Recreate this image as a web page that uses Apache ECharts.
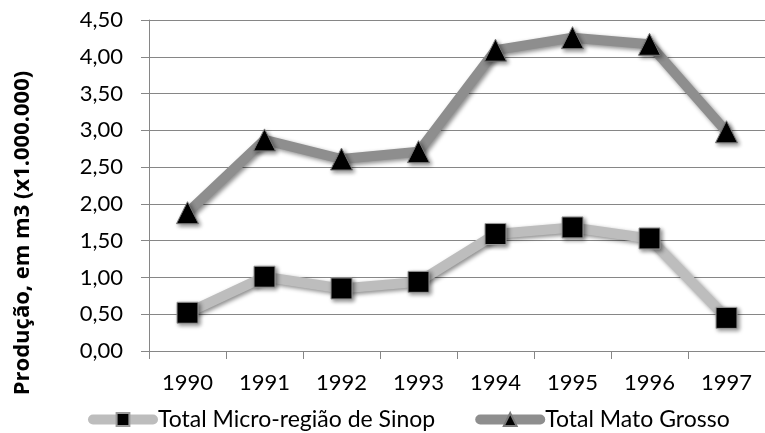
<!DOCTYPE html>
<html>
<head>
<meta charset="utf-8">
<script src="https://cdn.jsdelivr.net/npm/echarts@6/dist/echarts.min.js"></script>
<style>
  html, body { margin: 0; padding: 0; background: #fff; }
  #chart { width: 765px; height: 433px; }
</style>
</head>
<body>
<div id="chart"></div>
<script>
// dados
const anos = ["1990", "1991", "1992", "1993", "1994", "1995", "1996", "1997"];
const sinop = [0.52, 1.01, 0.85, 0.94, 1.59, 1.68, 1.53, 0.45];
const matoGrosso = [1.88, 2.87, 2.61, 2.71, 4.09, 4.26, 4.17, 2.98];
const nomes = ["Total Micro-região de Sinop", "Total Mato Grosso"];
const tituloY = "Produção, em m3 (x1.000.000)";

const fonte = "Lato, 'Open Sans', sans-serif";
const myChart = echarts.init(document.getElementById("chart"));

const sombra = {
  shadowBlur: 4,
  shadowColor: "rgba(0,0,0,0.45)",
  shadowOffsetX: 2,
  shadowOffsetY: 2,
};

const option = {
  animation: false,
  grid: { left: 149, width: 619, top: 20, bottom: 82 },
  legend: {
    top: 403,
    left: 83,
    itemGap: 40,
    itemWidth: 60,
    itemHeight: 16,
    lineStyle: { width: 10, cap: "round" },
    textStyle: { fontFamily: fonte, fontSize: 23, color: "#000" },
    data: nomes,
  },
  graphic: [
    {
      type: "text",
      x: 23,
      y: 233,
      rotation: Math.PI / 2,
      style: {
        text: tituloY,
        fontFamily: "'Open Sans', sans-serif",
        fontSize: 22,
        fontWeight: "bold",
        fill: "#000",
        align: "center",
        verticalAlign: "middle",
      },
    },
  ],
  xAxis: {
    type: "category",
    data: anos,
    boundaryGap: true,
    axisLine: { lineStyle: { color: "#868686", width: 1 } },
    axisTick: { show: true, length: 8, lineStyle: { color: "#868686" } },
    axisLabel: { fontFamily: fonte, fontSize: 22, color: "#000", margin: 21 },
  },
  yAxis: {
    type: "value",
    min: 0,
    max: 4.5,
    interval: 0.5,
    axisLine: { show: true, lineStyle: { color: "#868686" } },
    axisTick: { show: true, length: 8, lineStyle: { color: "#868686" } },
    splitLine: { lineStyle: { color: "#868686", width: 1 } },
    axisLabel: {
      fontFamily: fonte,
      fontSize: 22,
      color: "#000",
      margin: 26,
      formatter: (v) => v.toFixed(2).replace(".", ","),
    },
  },
  series: [
    {
      name: nomes[0],
      type: "line",
      data: sinop,
      symbol: "rect",
      symbolSize: 21,
      lineStyle: Object.assign({ color: "#bdbdbd", width: 10 }, sombra),
      itemStyle: Object.assign({ color: "#000", borderColor: "#9a9a9a", borderWidth: 1 }, sombra),
      z: 3,
    },
    {
      name: nomes[1],
      type: "line",
      data: matoGrosso,
      symbol: "triangle",
      symbolSize: [22, 22],
      lineStyle: Object.assign({ color: "#8e8e8e", width: 10 }, sombra),
      itemStyle: Object.assign({ color: "#000", borderColor: "#7a7a7a", borderWidth: 1 }, sombra),
      z: 3,
    },
  ],
};
myChart.setOption(option);
</script>
</body>
</html>
